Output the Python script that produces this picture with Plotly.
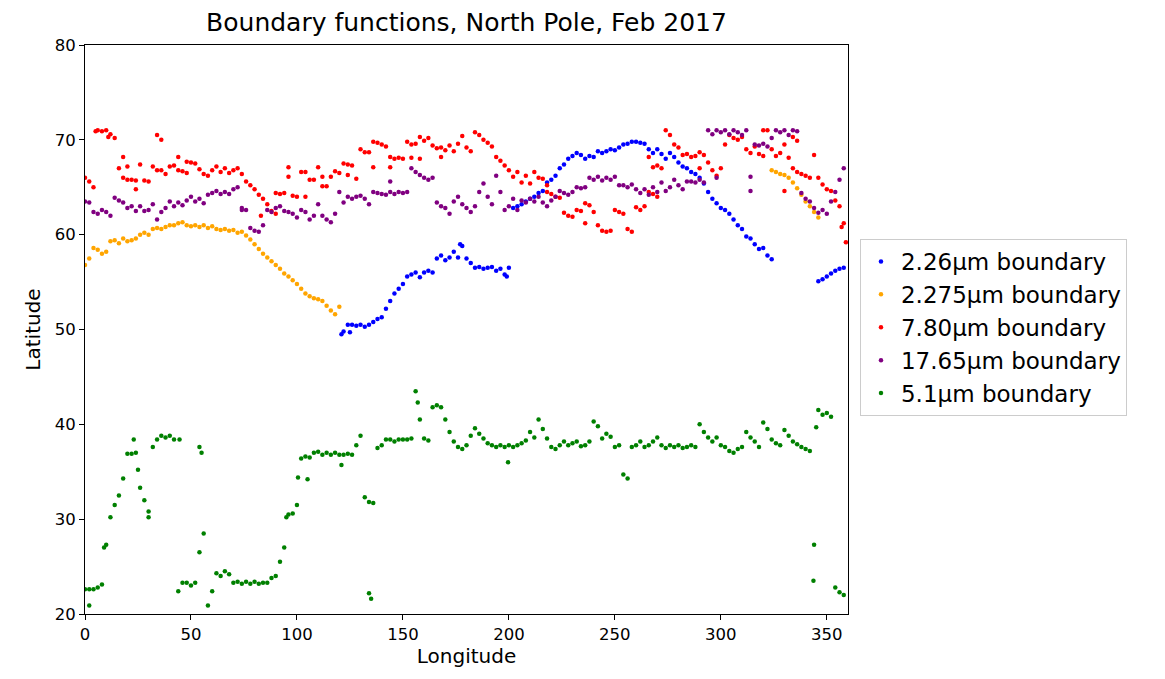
import plotly.graph_objects as go

# Longitude grid (degrees) on which the boundaries were sampled
STEP = 2
LON_GRID = list(range(0, 360, STEP))

# ---- 5.1 µm boundary (full longitude coverage) ----
green_lat = [
    22.6, 22.6, 22.6, 22.8, 23.1, 27.3, 30.2, 31.5, 32.5, 34.3,
    36.9, 36.9, 37.0, 33.3, 32.0, 30.8, 37.6, 38.4, 38.8, 38.6,
    38.8, 38.4, 22.4, 23.3, 23.3, 23.0, 23.3, 26.5, 28.5, 20.9,
    22.4, 24.3, 24.0, 24.5, 24.2, 23.3, 23.4, 23.2, 23.4, 23.2,
    23.4, 23.2, 23.3, 23.3, 23.8, 24.0, 25.5, 27.0, 30.5, 30.6,
    31.5, 36.4, 36.6, 36.5, 37.0, 37.1, 36.8, 37.0, 36.8, 37.0,
    36.8, 36.8, 36.9, 36.8, 37.8, 38.8, 32.3, 31.8, 31.7, 37.5,
    37.8, 38.4, 38.4, 38.2, 38.4, 38.4, 38.4, 38.5, 43.5, 40.5,
    38.5, 38.3, 41.8, 42.0, 41.8, 40.5, 39.2, 38.2, 37.6, 37.4,
    37.8, 38.8, 39.6, 39.0, 38.5, 38.0, 37.8, 37.6, 37.8, 37.6,
    37.8, 37.6, 37.8, 38.0, 38.3, 39.2, 38.6, 40.5, 39.5, 38.5,
    37.6, 37.4, 37.8, 38.2, 37.8, 38.0, 38.2, 37.7, 37.8, 38.2,
    40.3, 39.8, 38.5, 39.0, 38.7, 37.6, 37.8, 34.7, 34.3, 37.6,
    37.8, 38.2, 37.6, 37.8, 38.2, 38.6, 37.8, 37.5, 37.8, 37.6,
    37.8, 37.5, 37.6, 37.8, 37.6, 40.0, 39.2, 38.6, 38.2, 38.6,
    37.8, 37.6, 37.2, 37.0, 37.4, 37.6, 39.2, 38.6, 38.2, 37.6,
    40.2, 39.5, 38.4, 38.0, 37.8, 39.4, 38.8, 38.2, 37.9, 37.6,
    37.4, 37.2, 27.3, 41.5, 41.0, 41.2, 40.8, 22.8, 22.3, 22.0,
]
green_extra_lon = [2, 9, 23, 25, 30, 44.6, 54, 55, 95, 100.5, 105, 121,
                   134, 135, 157, 199.6, 343.7, 345]
green_extra_lat = [20.9, 27.0, 38.4, 35.2, 30.2, 38.4, 37.6, 37.0, 30.2, 34.4,
                   34.2, 35.7, 22.2, 21.6, 42.3, 36.0, 23.5, 39.7]

# ---- 2.26 µm boundary (three longitude segments) ----
blue_a_start = 122
blue_a_lat = [
    49.8, 50.5, 50.5, 50.4, 50.5, 50.3, 50.5, 50.8, 51.1, 51.3,
    52.2, 53.0, 53.8, 54.3, 54.8, 55.6, 55.8, 56.0, 55.5, 56.0,
    56.2, 56.0, 57.5, 57.8, 57.3, 57.6, 58.2, 57.6, 58.8, 57.5,
    57.0, 56.5, 56.6, 56.4, 56.5, 56.6, 56.2, 56.4, 55.8, 56.5,
]
blue_b_start = 202
blue_b_lat = [
    62.8, 63.0, 63.2, 63.5, 63.8, 64.0, 64.4, 64.6, 65.5, 65.8,
    66.2, 67.0, 67.4, 68.0, 68.3, 68.6, 68.4, 68.0, 68.3, 68.2,
    68.8, 68.6, 68.8, 69.0, 68.9, 69.2, 69.5, 69.6, 69.8, 69.8,
    69.7, 69.6, 69.0, 68.6, 69.0, 68.5, 68.0, 68.6, 68.2, 67.6,
    67.2, 67.0, 66.6, 66.4, 66.0, 65.4, 64.5, 63.8, 63.3, 62.8,
    62.6, 62.2, 61.6, 61.0, 60.6, 59.8, 59.6, 59.0, 58.5, 58.6,
    57.8, 57.4,
]
blue_c_start = 346
blue_c_lat = [55.1, 55.3, 55.6, 55.9, 56.2, 56.4, 56.5]
blue_extra_lon = [121, 125, 177, 199]
blue_extra_lat = [49.5, 49.7, 59.0, 55.6]

# ---- 2.275 µm boundary (two longitude segments) ----
orange_a_start = 0
orange_a_lat = [
    56.8, 57.5, 58.6, 58.4, 58.0, 58.2, 59.3, 59.4, 59.1, 59.6,
    59.3, 59.4, 59.6, 60.0, 60.2, 60.0, 60.6, 60.7, 60.6, 60.8,
    61.0, 61.0, 61.2, 61.3, 61.0, 60.9, 61.0, 60.8, 61.0, 60.7,
    60.9, 60.6, 60.5, 60.6, 60.4, 60.5, 60.2, 60.3, 59.9, 59.5,
    59.0, 58.5, 58.0, 57.6, 57.2, 56.8, 56.4, 55.9, 55.6, 55.2,
    54.8, 54.3, 53.8, 53.5, 53.3, 53.2, 53.0, 52.5, 52.0, 51.6,
    52.4,
]
orange_b_start = 324
orange_b_lat = [66.8, 66.6, 66.4, 66.3, 66.0, 65.5, 64.9, 64.2, 63.5, 63.0,
                62.4, 61.8]

# ---- 7.80 µm boundary (full longitude coverage) ----
red_lat = [
    66.0, 65.6, 65.0, 71.0, 70.9, 71.0, 70.6, 70.2, 67.0, 66.0,
    67.2, 65.8, 64.8, 67.4, 65.7, 65.6, 67.2, 70.5, 66.8, 66.4,
    67.2, 67.3, 68.2, 66.7, 67.7, 67.6, 67.5, 66.9, 66.4, 66.2,
    66.8, 67.2, 66.6, 67.0, 66.5, 66.8, 67.0, 66.4, 65.6, 65.2,
    64.8, 64.2, 63.8, 63.2, 62.5, 64.4, 64.3, 64.4, 67.1, 64.1,
    64.0, 66.6, 64.0, 65.8, 65.8, 67.1, 66.1, 65.1, 66.1, 66.7,
    66.5, 67.5, 66.3, 67.3, 65.9, 69.0, 68.7, 68.7, 67.1, 69.7,
    69.5, 69.3, 67.1, 68.0, 68.1, 68.0, 69.8, 68.1, 69.6, 70.3,
    69.9, 70.2, 69.4, 69.1, 68.2, 68.9, 69.4, 68.8, 69.6, 70.4,
    69.2, 68.8, 70.8, 70.5, 70.0, 69.7, 69.3, 68.2, 67.8, 67.3,
    66.8, 66.1, 66.6, 65.5, 66.2, 65.4, 66.6, 66.0, 65.9, 65.2,
    64.3, 64.0, 63.9, 62.3, 62.0, 61.9, 62.6, 62.5, 63.3, 63.1,
    62.4, 61.0, 60.4, 60.3, 60.4, 62.6, 62.4, 62.2, 60.6, 60.3,
    62.9, 62.6, 63.0, 64.5, 67.1, 67.3, 67.0, 71.0, 70.5, 69.5,
    69.2, 68.4, 68.5, 68.2, 68.3, 68.7, 68.4, 67.6, 66.8, 66.2,
    67.0, 69.5, 70.5, 70.2, 70.0, 70.3, 69.0, 68.6, 69.3, 68.5,
    71.0, 71.0, 69.0, 68.3, 68.6, 69.5, 68.1, 70.3, 69.9, 66.4,
    66.2, 66.0, 68.4, 66.0, 65.3, 64.8, 64.6, 63.6, 63.0, 61.2,
]
red_extra_lon = [5, 11, 18, 20, 24, 34, 36, 44, 48, 83, 90, 96, 104, 112,
                 124, 136, 144, 154, 158, 168, 218, 236, 266, 268, 270, 290,
                 320, 330, 334, 336, 357, 359]
red_extra_lat = [70.9, 70.3, 68.2, 65.8, 65.7, 66.8, 70.0, 66.8, 66.5, 62.0,
                 62.2, 66.1, 66.6, 65.1, 67.4, 69.8, 68.2, 69.5, 68.0, 69.2,
                 64.5, 61.2, 68.2, 64.3, 64.0, 67.0, 68.3, 64.6, 67.0, 66.6,
                 60.8, 59.2]

# ---- 17.65 µm boundary (full longitude coverage) ----
purple_lat = [
    63.5, 63.4, 62.4, 62.2, 62.6, 62.4, 62.0, 63.9, 63.6, 63.4,
    62.8, 63.0, 62.5, 63.0, 62.5, 62.6, 63.2, 61.6, 62.4, 62.8,
    63.5, 63.0, 63.4, 63.1, 63.6, 64.0, 63.5, 63.8, 63.3, 64.2,
    64.4, 64.6, 64.3, 64.5, 64.3, 64.8, 65.0, 62.6, 62.6, 60.7,
    60.4, 60.3, 61.0, 62.6, 62.4, 62.8, 63.0, 62.5, 62.4, 62.2,
    61.8, 62.6, 62.4, 61.6, 62.0, 63.2, 62.0, 61.6, 61.3, 62.2,
    64.5, 63.4, 64.0, 63.8, 64.0, 64.1, 63.8, 63.2, 64.5, 64.4,
    64.3, 64.2, 64.5, 64.3, 64.5, 64.4, 64.5, 67.0, 66.6, 66.3,
    66.0, 65.8, 66.0, 63.4, 63.0, 62.8, 62.2, 63.5, 64.0, 63.2,
    62.8, 62.4, 63.0, 64.5, 65.4, 64.0, 63.2, 66.2, 64.5, 62.6,
    63.0, 63.8, 62.6, 63.6, 63.4, 63.8, 63.5, 64.0, 63.4, 63.0,
    63.6, 64.0, 64.6, 64.4, 64.2, 64.5, 65.0, 64.9, 65.0, 66.0,
    65.8, 66.1, 65.7, 66.0, 65.8, 66.1, 65.2, 65.2, 65.0, 65.3,
    64.8, 64.4, 64.8, 64.2, 65.0, 64.5, 65.5, 64.6, 65.0, 65.8,
    65.2, 64.8, 65.6, 65.6, 65.5, 65.8, 65.5, 71.0, 70.6, 71.0,
    70.8, 71.0, 70.6, 71.0, 70.8, 70.5, 71.0, 66.1, 69.5, 69.4,
    69.6, 69.3, 70.2, 71.0, 70.8, 71.0, 70.5, 71.0, 70.9, 64.4,
    63.8, 63.5, 62.8, 62.3, 62.6, 62.2, 63.5, 64.5, 65.8, 67.0,
]
purple_extra_lon = [74, 144, 298, 314]
purple_extra_lat = [62.8, 65.6, 66.0, 64.6]


def segment(start, lats):
    """Longitudes for a run of samples beginning at `start`."""
    return [start + STEP * i for i in range(len(lats))]


series = [
    ("2.26\u00b5m boundary", "blue",
     segment(blue_a_start, blue_a_lat) + segment(blue_b_start, blue_b_lat)
     + segment(blue_c_start, blue_c_lat) + blue_extra_lon,
     blue_a_lat + blue_b_lat + blue_c_lat + blue_extra_lat),
    ("2.275\u00b5m boundary", "orange",
     segment(orange_a_start, orange_a_lat) + segment(orange_b_start, orange_b_lat),
     orange_a_lat + orange_b_lat),
    ("7.80\u00b5m boundary", "red",
     LON_GRID + red_extra_lon, red_lat + red_extra_lat),
    ("17.65\u00b5m boundary", "purple",
     LON_GRID + purple_extra_lon, purple_lat + purple_extra_lat),
    ("5.1\u00b5m boundary", "green",
     LON_GRID + green_extra_lon, green_lat + green_extra_lat),
]

FONT = "DejaVu Sans"
fig = go.Figure()
for i, (name, color, xs, ys) in enumerate(series):
    fig.add_trace(go.Scatter(
        x=xs, y=ys, mode="markers", name=name,
        legendgroup=f"g{i}",
        marker=dict(color=color, size=4.5, line=dict(width=0)),
    ))

axis_common = dict(
    showline=True, mirror=True, linecolor="black", linewidth=1,
    ticks="outside", ticklen=5, tickwidth=1, tickcolor="black",
    showgrid=False, zeroline=False,
    tickfont=dict(family=FONT, size=16.5, color="black"),
    title_font=dict(family=FONT, size=20, color="black"),
)

fig.update_layout(
    width=1165, height=679,
    margin=dict(l=85, r=317, t=45, b=65),
    plot_bgcolor="white", paper_bgcolor="white",
    font=dict(family=FONT, size=16, color="black"),
    title=dict(text="Boundary functions, North Pole, Feb 2017",
               x=0.5, xref="paper", xanchor="center",
               y=1 - 22 / 679, yref="container", yanchor="middle",
               font=dict(family=FONT, size=25, color="black")),
    xaxis=dict(range=[0, 360], tickvals=list(range(0, 351, 50)),
               title=dict(text="Longitude", standoff=4), **axis_common),
    yaxis=dict(range=[20, 80], tickvals=list(range(20, 81, 10)),
               title=dict(text="Latitude", standoff=8), **axis_common),
    legend=dict(x=1.0157, y=0.5035, xanchor="left", yanchor="middle",
                bordercolor="#cccccc", borderwidth=1, bgcolor="white",
                font=dict(family=FONT, size=23, color="black"),
                traceorder="grouped", tracegroupgap=0,
                itemsizing="trace"),
    showlegend=True,
)

fig.write_html("out.html")
